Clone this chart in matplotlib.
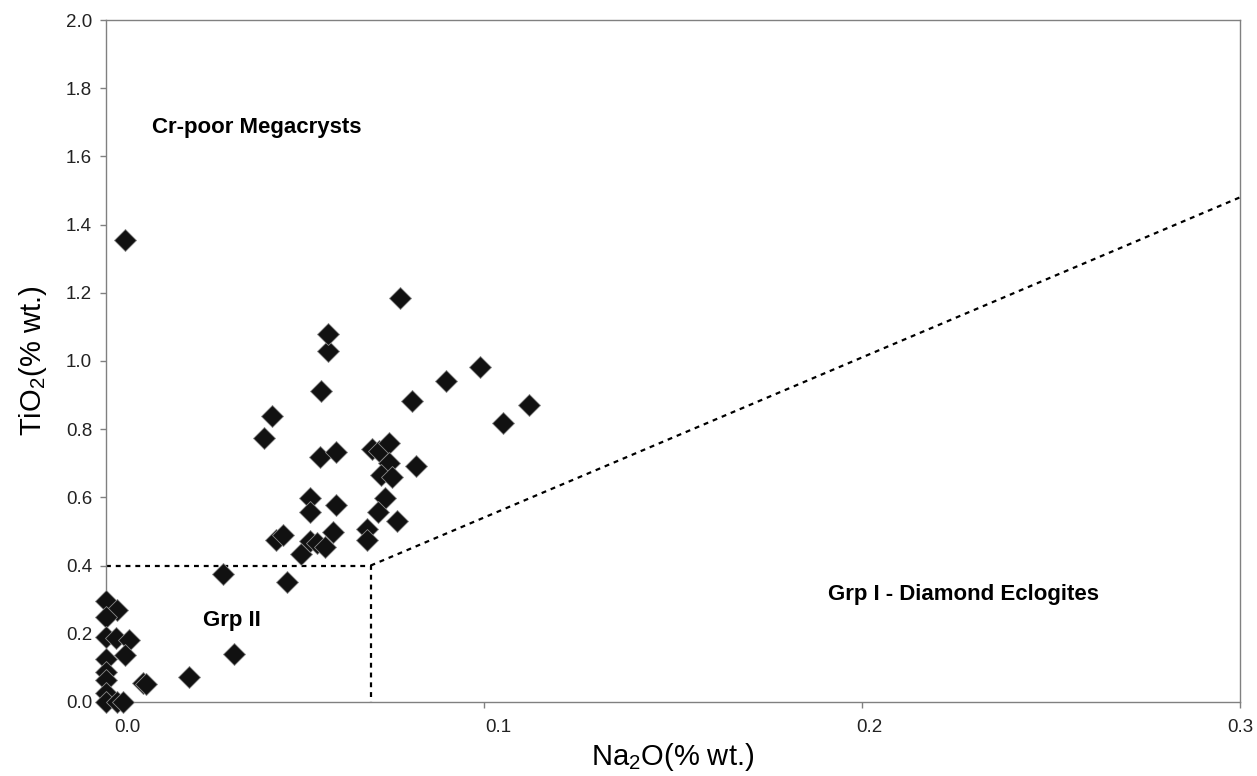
import numpy as np
import matplotlib.pyplot as plt
import matplotlib.transforms as mtransforms

plt.rcParams['font.family'] = ['Liberation Sans', 'DejaVu Sans']
plt.rcParams['mathtext.default'] = 'regular'

# garnet analyses, wt.%
na2o = [0.000, 0.003, 0.000, 0.000, 0.0026, 0.006, 0.005, 0.000, 0.000, 0.000,
        0.000, 0.000, 0.003, 0.0045, 0.0099, 0.0105, 0.022, 0.034, 0.031, 0.0478,
        0.005,
        0.0449, 0.0469, 0.0516, 0.054, 0.0557, 0.0579, 0.0601, 0.054, 0.054, 0.0608,
        0.0738, 0.0719, 0.0769, 0.069, 0.069, 0.0566, 0.0608, 0.0705, 0.0722, 0.0749,
        0.0749, 0.0728, 0.0756, 0.0819, 0.0419, 0.0438, 0.0569, 0.0588, 0.0588, 0.0778,
        0.0809, 0.0899, 0.0989, 0.1118, 0.1049]
tio2 = [0.297, 0.270, 0.250, 0.192, 0.187, 0.182, 0.138, 0.125, 0.089, 0.065,
        0.025, 0.000, 0.000, 0.000, 0.057, 0.052, 0.074, 0.140, 0.374, 0.351,
        1.355,
        0.475, 0.490, 0.433, 0.472, 0.465, 0.455, 0.499, 0.599, 0.558, 0.578,
        0.599, 0.556, 0.531, 0.507, 0.475, 0.718, 0.734, 0.742, 0.737, 0.759,
        0.700, 0.666, 0.661, 0.693, 0.773, 0.839, 0.912, 1.030, 1.078, 1.184,
        0.884, 0.942, 0.981, 0.871, 0.817]

# field boundaries
grp2_x = [0.0, 0.07, 0.07]
grp2_y = [0.4, 0.4, 0.0]
grp1_x = [0.07, 0.3]
grp1_y = [0.4, 1.48]

x_ticks = [0.0, 0.1, 0.2, 0.3]
y_ticks = np.arange(0, 2.01, 0.2)

fig = plt.figure(figsize=(12.57, 7.76), dpi=100)
ax = fig.add_axes([0.0843, 0.0954, 0.9022, 0.8788])

ax.plot(grp2_x, grp2_y, color='black', lw=1.6, ls=(0, (2.2, 2.2)))
ax.plot(grp1_x, grp1_y, color='black', lw=1.6, ls=(0, (2.2, 2.2)))

ax.plot(na2o, tio2, ls='none', marker='D', ms=11.5, mfc='#111111',
        mec='#8a8a8a', mew=0.6, clip_on=False, zorder=5)

ax.text(0.0122, 1.686, 'Cr-poor Megacrysts', fontsize=16, fontweight='bold', va='center')
ax.text(0.0257, 0.240, 'Grp II', fontsize=16, fontweight='bold', va='center')
ax.text(0.191, 0.314, 'Grp I - Diamond Eclogites', fontsize=16, fontweight='bold', va='center')

ax.set_xlim(0, 0.3)
ax.set_ylim(0, 2.0)
ax.set_xticks(x_ticks)
ax.set_yticks(y_ticks)
ax.set_xticklabels(['%.1f' % v for v in x_ticks])
ax.set_yticklabels(['%.1f' % v for v in y_ticks])

for s in ax.spines.values():
    s.set_color('#808080')
    s.set_linewidth(1.0)
ax.tick_params(direction='out', length=4, width=1, color='#808080',
               labelsize=13.5, labelcolor='#222222')
ax.tick_params(axis='x', pad=8)
ax.tick_params(axis='y', pad=6)

# x labels sit a little right of their ticks
for k, lab in enumerate(ax.get_xticklabels()):
    dx = (21 - 7 * k) / 100
    lab.set_transform(lab.get_transform() +
                      mtransforms.ScaledTranslation(dx, 0, fig.dpi_scale_trans))

ax.set_xlabel('Na$_2$O(% wt.)', fontsize=21, labelpad=4)
ax.set_ylabel('TiO$_2$(% wt.)', fontsize=21, labelpad=12)

fig.savefig('out.png', dpi=100)
